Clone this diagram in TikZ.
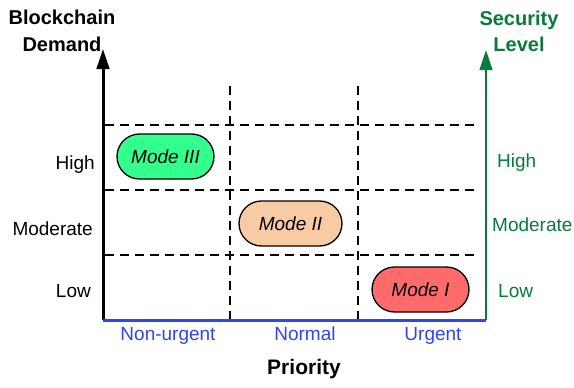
\documentclass[tikz,border=0pt]{standalone}
\usepackage{fontspec}
\setmainfont{Liberation Sans}
\usetikzlibrary{arrows.meta,shapes.misc}
\definecolor{axisblue}{HTML}{2E45F5}
\definecolor{axisgreen}{HTML}{087A3A}
\definecolor{modeA}{HTML}{FF6B6B}
\definecolor{modeB}{HTML}{F8CBA4}
\definecolor{modeC}{HTML}{33FF8C}
\tikzset{
  lbl/.style={font=\fontsize{19}{22}\selectfont, inner sep=0pt},
  grid line/.style={black, line width=1.4pt, dash pattern=on 9pt off 6pt},
  modebox/.style={rounded rectangle, draw=black, line width=1.3pt,
    minimum height=45pt, inner sep=0pt,
    font=\fontsize{19}{22}\selectfont\itshape},
  axistip/.style={-{Triangle[length=20pt,width=12.5pt]}},
}
\begin{document}
\begin{tikzpicture}[x=1pt,y=-1pt]
\useasboundingbox (0,0) rectangle (574,388);
% axes corners
\coordinate (O) at (103,320);
\coordinate (Ytop) at (103,49);
\coordinate (R) at (486,320);
\coordinate (Rtop) at (486,50);
% dashed grid
\foreach \yy/\nm in {125/a,190/b,255/c}{
  \coordinate (h\nm L) at (105,\yy);
  \coordinate (h\nm R) at (479,\yy);
  \draw[grid line] (h\nm L) -- (h\nm R);
}
\foreach \xx/\nm in {230/a,358/b}{
  \coordinate (v\nm T) at (\xx,86);
  \coordinate (v\nm B) at (\xx,320);
  \draw[grid line] (v\nm T) -- (v\nm B);
}
% axes
\draw[line width=3pt, black, axistip] (O) -- (Ytop);
\draw[line width=2.6pt, axisgreen, axistip] (R) -- (Rtop);
\draw[line width=3pt, axisblue] (O) -- (R);
% axis titles (anchored on the baseline of their last line)
\node[lbl, font=\fontsize{20}{28}\selectfont\bfseries, align=center, anchor=base] (ytitle) at (62,52) {Blockchain\\Demand};
\node[lbl, font=\fontsize{20}{27}\selectfont\bfseries, align=center, anchor=base, text=axisgreen] (rtitle) at (519,52) {Security\\Level};
\node[lbl, font=\fontsize{21}{24}\selectfont\bfseries, anchor=base] (xtitle) at (304,374) {Priority};
% left scale
\node[lbl, anchor=base east] (lh) at (95,169) {High};
\node[lbl, anchor=base east] (lm) at (93,235) {Moderate};
\node[lbl, anchor=base east] (ll) at (91,297) {Low};
% right scale
\node[lbl, anchor=base west, text=axisgreen] (rh) at (497,167) {High};
\node[lbl, anchor=base west, text=axisgreen] (rm) at (492,231) {Moderate};
\node[lbl, anchor=base west, text=axisgreen] (rl) at (498,297) {Low};
% priority scale
\node[lbl, anchor=base, text=axisblue] (pn) at (168,340) {Non-urgent};
\node[lbl, anchor=base, text=axisblue] (pm) at (305,340) {Normal};
\node[lbl, anchor=base, text=axisblue] (pu) at (433,340) {Urgent};
% operating modes
\node[modebox, fill=modeC, minimum width=97pt] (m3) at (165.5,156.5) {Mode III};
\node[modebox, fill=modeB, minimum width=103pt] (m2) at (290.5,223.5) {Mode II};
\node[modebox, fill=modeA, minimum width=97pt] (m1) at (420.5,289.5) {Mode I};
\end{tikzpicture}
\end{document}
